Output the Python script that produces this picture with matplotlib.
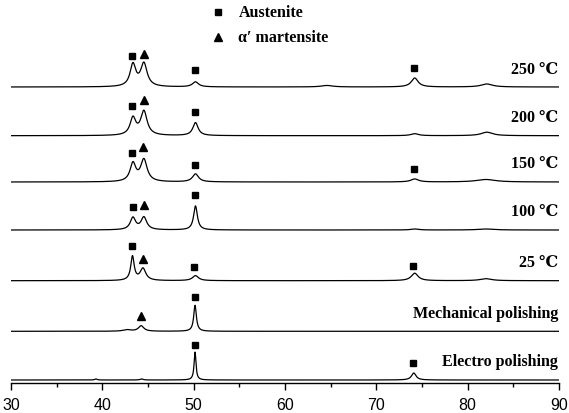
import numpy as np
import matplotlib.pyplot as plt

# sample names (top to bottom) and vertical offset of each trace baseline
samples = ["250 ℃", "200 ℃", "150 ℃", "100 ℃", "25 ℃",
           "Mechanical polishing", "Electro polishing"]
offsets = [295.5, 246.8, 200.5, 152.5, 101.8, 51.2, 2.5]

# peaks: (2theta, height, fwhm)
peaks = [
    [(43.35, 22, 0.75), (44.55, 23, 0.85), (50.2, 5, 0.8), (64.6, 1.5, 1.5), (74.2, 9, 0.9), (82.1, 3, 1.5)],
    [(43.35, 17, 0.75), (44.55, 24, 0.85), (50.2, 13, 0.7), (74.2, 2, 1.0), (82.1, 3.5, 1.5)],
    [(43.35, 18, 0.75), (44.55, 22, 0.85), (50.2, 8, 0.8), (74.2, 3, 1.0), (82.0, 2.5, 2.5)],
    [(43.35, 12, 0.7), (44.55, 12.5, 0.75), (50.2, 24, 0.5), (74.2, 1, 1.0), (82.0, 1, 2.0)],
    [(43.3, 24, 0.45), (44.45, 12, 0.75), (50.2, 5, 0.8), (74.2, 7.5, 0.9), (82.0, 2, 1.5)],
    [(42.7, 1.5, 1.0), (44.25, 5.5, 0.7), (50.15, 26, 0.35)],
    [(39.3, 1, 0.3), (44.3, 1, 0.4), (50.15, 28, 0.25), (74.1, 7, 0.6)],
]

# phase markers: (2theta, phase, height above baseline); 's' austenite, '^' martensite
marks = [
    [(43.3, "s", 31), (44.6, "^", 33), (50.15, "s", 17), (74.1, "s", 19)],
    [(43.3, "s", 30), (44.6, "^", 36), (50.15, "s", 24)],
    [(43.3, "s", 29), (44.5, "^", 35), (50.15, "s", 17), (74.1, "s", 13)],
    [(43.35, "s", 23.5), (44.6, "^", 25), (50.2, "s", 35)],
    [(43.3, "s", 35), (44.4, "^", 22), (50.0, "s", 14), (74.0, "s", 15)],
    [(44.2, "^", 15.6), (50.15, "s", 34.6)],
    [(50.15, "s", 35), (74.0, "s", 17)],
]

legend_names = ["Austenite", "α′ martensite"]
legend_marks = ["s", "^"]

x_ticks = [30, 40, 50, 60, 70, 80, 90]

W, H = 569, 414
fig = plt.figure(figsize=(W / 100, H / 100), dpi=100)
ax = fig.add_axes([11 / W, 1 - 383.5 / H, 548 / W, 383.5 / H])

tt = np.linspace(30, 90, 3001)
serif = ["Liberation Serif", "DejaVu Serif"]

for name, base, pk, mk in zip(samples, offsets, peaks, marks):
    y = np.zeros_like(tt)
    for pos, h, w in pk:
        y += h / (1 + ((tt - pos) / (w / 2)) ** 2)
    ax.plot(tt, base + y, color="black", lw=0.9)
    for pos, m, dy in mk:
        ax.plot(pos, base + dy, marker=m, color="black",
                markersize=4.5 if m == "s" else 6, linestyle="none")
    ax.text(89.9, base + 18.5, name, ha="right", va="center",
            fontsize=11.5, fontweight="bold", family=serif)

# legend at top (drawn by hand, like the original)
for i, (lab, m) in enumerate(zip(legend_names, legend_marks)):
    ly = 370.5 - 25 * i
    ax.plot(52.7, ly, marker=m, color="black",
            markersize=4.5 if m == "s" else 6, clip_on=False)
    ax.text(54.9, ly, lab, ha="left", va="center",
            fontsize=11.5, fontweight="bold", family=serif)

ax.set_xlim(30, 90)
ax.set_ylim(0, 383.5)
ax.set_xticks(x_ticks)
ax.set_xticks(np.arange(35, 90, 10), minor=True)
ax.set_yticks([])
for s in ["top", "left", "right"]:
    ax.spines[s].set_visible(False)
ax.spines["bottom"].set_linewidth(1.0)
ax.tick_params(axis="x", which="major", direction="out", length=5, width=1, pad=5.5,
               labelsize=11.5)
ax.tick_params(axis="x", which="minor", direction="out", length=3, width=1)
for lab in ax.get_xticklabels():
    lab.set_family(["Liberation Sans", "DejaVu Sans"])

fig.savefig("out.png", dpi=100)
